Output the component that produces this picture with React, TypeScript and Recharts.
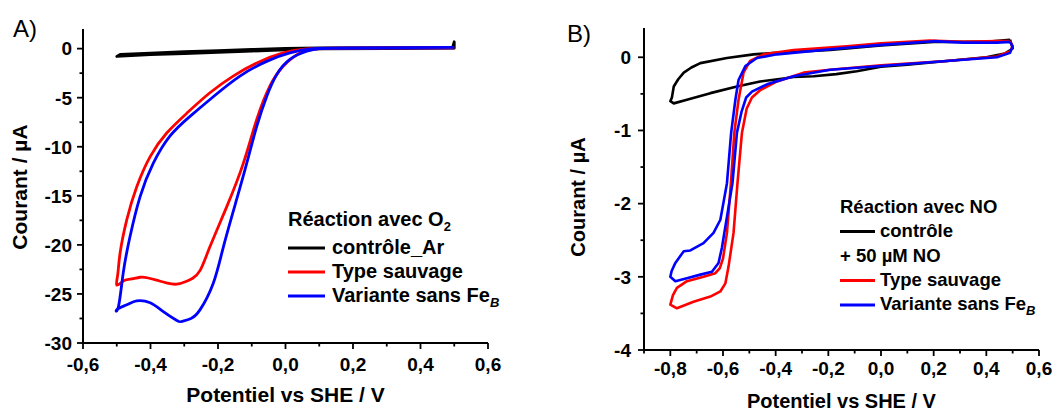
import React from 'react'
import { LineChart, Line, XAxis, YAxis } from 'recharts'

const FONT = '"Liberation Sans", Arial, Helvetica, sans-serif'

// ticks
const xMajorA = [-0.6, -0.4, -0.2, 0, 0.2, 0.4, 0.6]
const xMinorA = [-0.5, -0.3, -0.1, 0.1, 0.3, 0.5]
const yMajorA = [-30, -25, -20, -15, -10, -5, 0]
const yMinorA = [-27.5, -22.5, -17.5, -12.5, -7.5, -2.5]
const xMajorB = [-0.8, -0.6, -0.4, -0.2, 0, 0.2, 0.4, 0.6]
const xMinorB = [-0.9, -0.7, -0.5, -0.3, -0.1, 0.1, 0.3, 0.5]
const yMajorB = [-4, -3, -2, -1, 0]
const yMinorB = [-3.5, -2.5, -1.5, -0.5]

// A) O2, [potential V, current µA]
const ctrlAr = [
  [0.495, 0.1], [0.5, 0.7], [0.5, 0.05], [0.3, 0.0], [0.1, -0.02], [0.0, -0.12], [-0.1, -0.25],
  [-0.2, -0.38], [-0.3, -0.5], [-0.4, -0.62], [-0.5, -0.8], [-0.49, -0.6], [-0.4, -0.45],
  [-0.3, -0.32], [-0.2, -0.2], [-0.1, -0.08], [0.0, 0.02], [0.1, 0.08], [0.3, 0.1], [0.495, 0.1],
]
const wildA = [
  [0.5, 0.05], [0.3, 0.05], [0.15, 0.02], [0.092, -0.03], [0.043, -0.44], [-0.007, -1.8],
  [-0.046, -3.8], [-0.085, -7.2], [-0.125, -11.7], [-0.174, -16.1], [-0.224, -20.2],
  [-0.253, -22.6], [-0.275, -23.4], [-0.293, -23.7], [-0.322, -24.0], [-0.35, -23.9],
  [-0.382, -23.6], [-0.41, -23.35], [-0.431, -23.3], [-0.46, -23.5], [-0.481, -23.7], [-0.5, -24.1],
  [-0.497, -23.0], [-0.49, -20.8], [-0.47, -17.4], [-0.441, -14.1], [-0.401, -11.0],
  [-0.352, -8.6], [-0.293, -6.6], [-0.224, -4.5], [-0.155, -2.8], [-0.085, -1.46],
  [-0.007, -0.44], [0.063, -0.03], [0.15, 0.06], [0.3, 0.08], [0.5, 0.1],
]
const sansFeA = [
  [0.5, 0.08], [0.3, 0.05], [0.15, 0.03], [0.1, 0.0], [0.063, -0.27], [0.013, -1.1],
  [-0.026, -2.65], [-0.056, -4.9], [-0.085, -7.9], [-0.115, -11.7], [-0.145, -15.4],
  [-0.184, -20.2], [-0.214, -23.9], [-0.253, -26.6], [-0.28, -27.5], [-0.307, -27.8],
  [-0.322, -27.7], [-0.362, -26.8], [-0.401, -25.9], [-0.441, -25.7], [-0.47, -26.1], [-0.5, -26.6],
  [-0.495, -26.3], [-0.481, -22.9], [-0.461, -19.2], [-0.431, -15.1], [-0.392, -11.7],
  [-0.342, -8.9], [-0.283, -6.9], [-0.214, -4.9], [-0.135, -2.8], [-0.056, -1.3],
  [0.013, -0.44], [0.082, 0.0], [0.2, 0.08], [0.5, 0.12],
]

// B) NO
const ctrlB = [
  [0.49, 0.24], [0.5, 0.12], [0.47, 0.05], [0.4, 0.0], [0.25, -0.05], [0.1, -0.1], [0.0, -0.13],
  [-0.092, -0.19], [-0.17, -0.23], [-0.256, -0.26], [-0.332, -0.27], [-0.37, -0.29],
  [-0.459, -0.33], [-0.547, -0.4], [-0.648, -0.49], [-0.737, -0.58], [-0.787, -0.63], [-0.8, -0.6],
  [-0.794, -0.55], [-0.787, -0.4], [-0.77, -0.3], [-0.749, -0.21], [-0.72, -0.14], [-0.686, -0.08],
  [-0.585, -0.01], [-0.484, 0.04], [-0.4, 0.06], [-0.3, 0.08], [-0.193, 0.1], [0.0, 0.16],
  [0.2, 0.21], [0.4, 0.21], [0.49, 0.24],
]
const wildB = [
  [0.49, 0.22], [0.5, 0.15], [0.49, 0.08], [0.44, 0.01], [0.25, -0.05], [0.0, -0.11],
  [-0.193, -0.17], [-0.294, -0.21], [-0.395, -0.33], [-0.459, -0.45], [-0.49, -0.55],
  [-0.51, -0.7], [-0.528, -1.03], [-0.545, -1.72], [-0.56, -2.4], [-0.579, -2.86], [-0.591, -3.09],
  [-0.61, -3.2], [-0.648, -3.27], [-0.712, -3.34], [-0.775, -3.43], [-0.8, -3.38],
  [-0.79, -3.25], [-0.775, -3.15], [-0.737, -3.06], [-0.674, -3.0], [-0.629, -2.95],
  [-0.612, -2.88], [-0.6, -2.75], [-0.585, -2.4], [-0.57, -1.72], [-0.557, -1.03],
  [-0.541, -0.58], [-0.522, -0.21], [-0.497, -0.05], [-0.446, 0.04], [-0.332, 0.1],
  [-0.13, 0.15], [0.0, 0.19], [0.186, 0.23], [0.313, 0.21], [0.439, 0.22], [0.49, 0.22],
]
const sansFeB = [
  [0.49, 0.21], [0.5, 0.15], [0.49, 0.06], [0.44, 0.0], [0.25, -0.05], [0.0, -0.12],
  [-0.193, -0.17], [-0.332, -0.26], [-0.433, -0.37], [-0.49, -0.47], [-0.512, -0.55],
  [-0.53, -0.75], [-0.547, -1.03], [-0.564, -1.72], [-0.595, -2.4], [-0.604, -2.6],
  [-0.617, -2.81], [-0.642, -2.93], [-0.686, -2.97], [-0.737, -3.02], [-0.781, -3.06], [-0.8, -3.0],
  [-0.795, -2.92], [-0.781, -2.81], [-0.749, -2.65], [-0.724, -2.64], [-0.674, -2.54],
  [-0.636, -2.4], [-0.61, -2.22], [-0.598, -1.98], [-0.585, -1.72], [-0.569, -1.03],
  [-0.553, -0.58], [-0.541, -0.31], [-0.515, -0.12], [-0.471, -0.01], [-0.395, 0.04],
  [-0.307, 0.07], [-0.13, 0.13], [0.0, 0.17], [0.2, 0.22], [0.313, 0.2], [0.44, 0.2], [0.49, 0.21],
]

const seriesA = [
  { name: 'contrôle_Ar', color: '#000000', pts: ctrlAr, curve: 'linear' },
  { name: 'Type sauvage', color: '#ff0000', pts: wildA, curve: 'natural' },
  { name: 'Variante sans Fe', color: '#0000ff', pts: sansFeA, curve: 'natural' },
]
const seriesB = [
  { name: 'contrôle', color: '#000000', pts: ctrlB },
  { name: 'Type sauvage', color: '#ff0000', pts: wildB },
  { name: 'Variante sans Fe', color: '#0000ff', pts: sansFeB },
]

const toRows = (pts: number[][]) => pts.map(([x, y]) => ({ x, y }))
const isIn = (arr: number[], v: number) => arr.some((m) => Math.abs(m - v) < 1e-9)
const fmtX = (v: number) => v.toFixed(1).replace('.', ',')

const XTick = ({ x, y, payload, majors, base, fs }: any) => {
  const major = isIn(majors, payload.value)
  return (
    <g>
      <line x1={x} y1={y} x2={x} y2={y + (major ? 6 : 3.5)} stroke="#000" strokeWidth={1.8} />
      {major && (
        <text x={x} y={y + base} textAnchor="middle" fontSize={fs} fontWeight="bold" fontFamily={FONT} fill="#000">
          {fmtX(payload.value)}
        </text>
      )}
    </g>
  )
}

const YTick = ({ x, y, payload, majors, gap, fs }: any) => {
  const major = isIn(majors, payload.value)
  return (
    <g>
      <line x1={x - (major ? 6 : 3.5)} y1={y} x2={x} y2={y} stroke="#000" strokeWidth={1.8} />
      {major && (
        <text x={x - gap} y={y} dy="0.36em" textAnchor="end" fontSize={fs} fontWeight="bold" fontFamily={FONT} fill="#000">
          {String(payload.value)}
        </text>
      )}
    </g>
  )
}

const Sub = ({ children, italic }: any) => (
  <tspan dy={5} fontSize={13} fontStyle={italic ? 'italic' : 'normal'}>{children}</tspan>
)

function LegendA() {
  const rows = [254, 278, 302]
  return (
    <g fontFamily={FONT} fontWeight="bold" fontSize={20} fill="#000">
      <text x={288} y={226}>Réaction avec O<Sub>2</Sub></text>
      {seriesA.map((s, i) => (
        <g key={s.name}>
          <line x1={288} x2={325} y1={rows[i] - 6} y2={rows[i] - 6} stroke={s.color} strokeWidth={3} />
          <text x={332} y={rows[i]}>
            {s.name}
            {i === 2 && <Sub italic>B</Sub>}
          </text>
        </g>
      ))}
      <text x={13} y={37} fontWeight="normal" fontSize={24}>A)</text>
    </g>
  )
}

function LegendB() {
  return (
    <g fontFamily={FONT} fontWeight="bold" fontSize={18.5} fill="#000">
      <text x={310} y={213}>Réaction avec NO</text>
      <line x1={310} x2={345} y1={231.5} y2={231.5} stroke={seriesB[0].color} strokeWidth={3} />
      <text x={350} y={237}>{seriesB[0].name}</text>
      <text x={310} y={261.5}>+ 50 µM NO</text>
      <line x1={310} x2={345} y1={280.5} y2={280.5} stroke={seriesB[1].color} strokeWidth={3} />
      <text x={350} y={285.5}>{seriesB[1].name}</text>
      <line x1={310} x2={345} y1={305} y2={305} stroke={seriesB[2].color} strokeWidth={3} />
      <text x={350} y={310}>
        {seriesB[2].name}
        <Sub italic>B</Sub>
      </text>
      <text x={37} y={42} fontWeight="normal" fontSize={24}>B)</text>
    </g>
  )
}

const XTitle = ({ viewBox, dy, fs }: any) => (
  <text x={viewBox.x + viewBox.width / 2} y={viewBox.y + dy} textAnchor="middle" fontSize={fs} fontWeight="bold" fontFamily={FONT} fill="#000">
    Potentiel vs SHE / V
  </text>
)

const YTitle = ({ viewBox, bx, shift, fs }: any) => {
  const cx = viewBox.x + bx
  const cy = viewBox.y + viewBox.height / 2 + shift
  return (
    <text x={cx} y={cy} transform={`rotate(-90 ${cx} ${cy})`} textAnchor="middle" fontSize={fs} fontWeight="bold" fontFamily={FONT} fill="#000">
      Courant / µA
    </text>
  )
}

export default function App() {
  return (
    <div style={{ position: 'absolute', left: 0, top: 0, width: 1052, height: 411, background: '#fff' }}>
      <div style={{ position: 'absolute', left: 0, top: 0 }}>
        <LineChart width={520} height={411} margin={{ top: 29, right: 32, bottom: 0, left: 0 }}>
          <XAxis
            dataKey="x" type="number" domain={[-0.6, 0.6]} allowDataOverflow
            ticks={[...xMajorA, ...xMinorA].sort((a, b) => a - b)} interval={0}
            height={68} tickSize={0} tickMargin={0} tickLine={false}
            axisLine={{ stroke: '#000', strokeWidth: 2 }}
            tick={(p: any) => <XTick {...p} majors={xMajorA} base={28} fs={19} />}
            label={{ content: (p: any) => <XTitle {...p} dy={59} fs={21} /> }}
          />
          <YAxis
            dataKey="y" type="number" domain={[-30, 2]} allowDataOverflow
            ticks={[...yMajorA, ...yMinorA].sort((a, b) => a - b)} interval={0}
            width={83} tickSize={0} tickMargin={0} tickLine={false}
            axisLine={{ stroke: '#000', strokeWidth: 2 }}
            tick={(p: any) => <YTick {...p} majors={yMajorA} gap={11} fs={19} />}
            label={{ content: (p: any) => <YTitle {...p} bx={27} shift={1} fs={21} /> }}
          />
          {seriesA.map((s) => (
            <Line key={s.name} data={toRows(s.pts)} dataKey="y" type={s.curve as any} stroke={s.color}
              strokeWidth={2.8} dot={false} isAnimationActive={false} strokeLinejoin="round" />
          ))}
          <LegendA />
        </LineChart>
      </div>
      <div style={{ position: 'absolute', left: 530, top: 0 }}>
        <LineChart width={522} height={411} margin={{ top: 28, right: 13, bottom: 0, left: 0 }}>
          <XAxis
            dataKey="x" type="number" domain={[-0.9, 0.6]} allowDataOverflow
            ticks={[...xMajorB, ...xMinorB].sort((a, b) => a - b)} interval={0}
            height={61} tickSize={0} tickMargin={0} tickLine={false}
            axisLine={{ stroke: '#000', strokeWidth: 2 }}
            tick={(p: any) => <XTick {...p} majors={xMajorB} base={25} fs={19} />}
            label={{ content: (p: any) => <XTitle {...p} dy={58} fs={20} /> }}
          />
          <YAxis
            dataKey="y" type="number" domain={[-4, 0.4]} allowDataOverflow
            ticks={[...yMajorB, ...yMinorB].sort((a, b) => a - b)} interval={0}
            width={114} tickSize={0} tickMargin={0} tickLine={false}
            axisLine={{ stroke: '#000', strokeWidth: 2 }}
            tick={(p: any) => <YTick {...p} majors={yMajorB} gap={13} fs={19} />}
            label={{ content: (p: any) => <YTitle {...p} bx={54.5} shift={8} fs={20} /> }}
          />
          {seriesB.map((s) => (
            <Line key={s.name} data={toRows(s.pts)} dataKey="y" type="linear" stroke={s.color}
              strokeWidth={2.6} dot={false} isAnimationActive={false} strokeLinejoin="round" />
          ))}
          <LegendB />
        </LineChart>
      </div>
    </div>
  )
}
